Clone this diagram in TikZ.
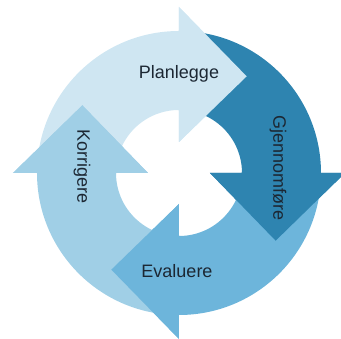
\documentclass[tikz,border=0pt]{standalone}
\usepackage{fontspec}
\setmainfont{Liberation Sans}
\definecolor{BLUE_A}{HTML}{CFE6F2}
\definecolor{BLUE_B}{HTML}{A0CFE6}
\definecolor{BLUE_C}{HTML}{6DB5DB}
\definecolor{BLUE_E}{HTML}{2E84B0}
\definecolor{TEXT}{HTML}{1C2733}
\tikzset{
	label/.style = {font=\fontsize{18}{20}\selectfont, text=TEXT, inner sep=0pt}
}

\begin{document}
\begin{tikzpicture}[x=1pt, y=1pt]
		\useasboundingbox (-179,-166) rectangle (162,173);
		
		% planlegge
		\fill[BLUE_A] (180:142) arc[start angle=180, end angle=90, radius=142] -- (90:166) -- (55:118) -- (90:31) -- (90:63) arc[start angle=90, end angle=180, radius=63] -- cycle;
		
		% gjennomfore
		\fill[BLUE_E] (90:142) arc[start angle=90, end angle=0, radius=142] -- (0:166) -- (-35:118) -- (0:31) -- (0:63) arc[start angle=0, end angle=90, radius=63] -- cycle;
		
		% evaluere
		\fill[BLUE_C] (0:142) arc[start angle=0, end angle=-90, radius=142] -- (-90:166) -- (-125:118) -- (-90:31) -- (-90:63) arc[start angle=-90, end angle=0, radius=63] -- cycle;
		
		% korrigere
		\fill[BLUE_B] (-90:142) arc[start angle=-90, end angle=-180, radius=142] -- (180:166) -- (145:118) -- (180:31) -- (180:63) arc[start angle=-180, end angle=-90, radius=63] -- cycle;
		
		% heads once more, each above the next band
		\fill[BLUE_A] (91:63) -- (91:142) -- (90:142) -- (90:166) -- (55:118) -- (90:31) -- (90:63) -- cycle;
		\fill[BLUE_E] (1:63) -- (1:142) -- (0:142) -- (0:166) -- (-35:118) -- (0:31) -- (0:63) -- cycle;
		\fill[BLUE_C] (-89:63) -- (-89:142) -- (-90:142) -- (-90:166) -- (-125:118) -- (-90:31) -- (-90:63) -- cycle;
		\fill[BLUE_B] (181:63) -- (181:142) -- (180:142) -- (180:166) -- (145:118) -- (180:31) -- (180:63) -- cycle;
		
		% labels
		\node[label] (planlegge) at (0,99) {Planlegge};
		\node[label, rotate=-90] (gjennomfore) at (99,5) {Gjennomføre};
		\node[label] (evaluere) at (-2,-98) {Evaluere};
		\node[label, rotate=-90] (korrigere) at (-97,6) {Korrigere};
	\end{tikzpicture}
\end{document}
